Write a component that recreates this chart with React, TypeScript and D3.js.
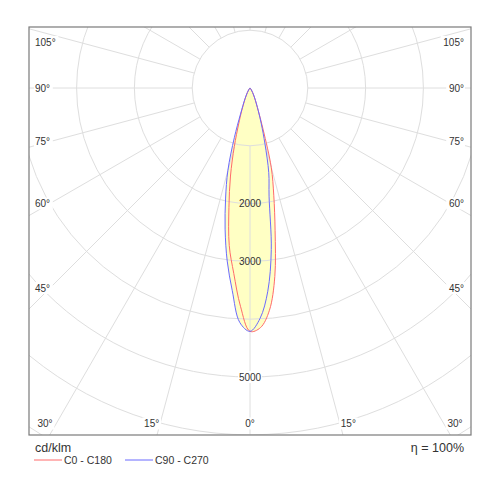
import React from "react";
import * as d3 from "d3";

// Gamma angles (deg from nadir) and intensities (cd/klm) per half-plane
const gammaAngles = [0, 2.5, 5, 7.5, 10, 12.5, 15, 17.5, 20, 25, 30, 35, 40, 50, 60, 70, 80, 90];
const c0Values = [4210, 4150, 3860, 3290, 2500, 1900, 1420, 760, 420, 190, 90, 40, 20, 8, 4, 2, 1, 0];
const c180Values = [4210, 3780, 3220, 2750, 2100, 1560, 1050, 650, 420, 190, 90, 40, 20, 8, 4, 2, 1, 0];
const c90Values = [4200, 3990, 3530, 2820, 1900, 1500, 1000, 650, 420, 190, 90, 40, 20, 8, 4, 2, 1, 0];
const c270Values = [4210, 4060, 3520, 3020, 2480, 1950, 1480, 900, 480, 200, 90, 40, 20, 8, 4, 2, 1, 0];

const ringValues = [1000, 2000, 3000, 4000, 5000, 6000, 7000, 8000];
const ringLabels = [2000, 3000, 5000];
const sideAngleLabels = [45, 60, 75, 90, 105];
const bottomAngleLabels = [0, 15, 30];
const series = [
  { name: "C0 - C180", right: c0Values, left: c180Values, color: "#ff6a6a" },
  { name: "C90 - C270", right: c90Values, left: c270Values, color: "#6a6aff" },
];
const unitLabel = "cd/klm";
const effLabel = "η = 100%";

const FONT = "'Liberation Sans', Arial, sans-serif";

export default function App() {
  const W = 500, H = 500;
  const cx = 250, cy = 88;
  const fx0 = 29, fy0 = 27, fx1 = 471, fy1 = 435;
  const r = d3.scaleLinear().domain([0, 5000]).range([0, 289]);
  const rad = (d: number) => (d * Math.PI) / 180;

  const makePoints = (left: number[], right: number[]) => {
    const pts: [number, number][] = [];
    for (let i = gammaAngles.length - 1; i >= 0; i--) pts.push([-gammaAngles[i], left[i]]);
    for (let i = 1; i < gammaAngles.length; i++) pts.push([gammaAngles[i], right[i]]);
    return pts;
  };
  const line = d3
    .lineRadial<[number, number]>()
    .angle((p) => Math.PI - rad(p[0]))
    .radius((p) => r(p[1]))
    .curve(d3.curveCatmullRom.alpha(0.5));

  const radials = d3.range(0, 360, 15);
  const r1 = r(1000);

  const labelBox = (x: number, y: number, text: string, anchor: "start" | "middle" | "end", key: string) => {
    const w = text.length * 5.6;
    const bx = anchor === "start" ? x : anchor === "end" ? x - w : x - w / 2;
    return (
      <g key={key}>
        <rect x={bx - 1} y={y - 6} width={w + 2} height={12} fill="#fff" />
        <text x={x} y={y + 3.5} textAnchor={anchor} fontSize={10} fill="#333" fontFamily={FONT}>
          {text}
        </text>
      </g>
    );
  };

  const sideLabels: React.ReactNode[] = [];
  sideAngleLabels.forEach((g) => {
    let y = cy + (200 * Math.cos(rad(g))) / Math.sin(rad(g));
    y = Math.max(y, fy0 + 15);
    sideLabels.push(labelBox(35, y, `${g}°`, "start", `l${g}`));
    sideLabels.push(labelBox(464, y, `${g}°`, "end", `r${g}`));
  });
  bottomAngleLabels.forEach((g) => {
    const off = (fy1 + 20 - cy) * Math.tan(rad(g));
    const yl = 423.5;
    if (g === 0) {
      sideLabels.push(labelBox(cx, yl, `${g}°`, "middle", `b0`));
    } else {
      sideLabels.push(labelBox(Math.max(cx - off, 45), yl, `${g}°`, "middle", `bl${g}`));
      sideLabels.push(labelBox(Math.min(cx + off, 455), yl, `${g}°`, "middle", `br${g}`));
    }
  });

  return (
    <svg width={W} height={H} style={{ position: "absolute", left: 0, top: 0, background: "#fff" }}>
      <defs>
        <clipPath id="frameClip">
          <rect x={fx0} y={fy0} width={fx1 - fx0} height={fy1 - fy0} />
        </clipPath>
      </defs>
      <g clipPath="url(#frameClip)">
        <g transform={`translate(${cx},${cy})`}>
          {series.map((s) => (
            <path key={"f" + s.name} d={line(makePoints(s.left, s.right)) || ""} fill="#ffffc4" stroke="none" />
          ))}
          {ringValues.map((v) => (
            <circle key={v} r={r(v)} fill="none" stroke="#dedede" strokeWidth={1} />
          ))}
          {radials.map((a) => {
            const t = rad(a);
            return (
              <line
                key={a}
                x1={r1 * Math.sin(t)}
                y1={r1 * Math.cos(t)}
                x2={700 * Math.sin(t)}
                y2={700 * Math.cos(t)}
                stroke="#dedede"
                strokeWidth={1}
              />
            );
          })}
          {series.map((s) => (
            <path key={"l" + s.name} d={line(makePoints(s.left, s.right)) || ""} fill="none" stroke={s.color} strokeWidth={1} />
          ))}
          {ringLabels.map((v) => (
            <g key={"rl" + v}>
              {v === 5000 && <rect x={-12} y={r(v) - 6} width={24} height={12} fill="#fff" />}
              <text x={0} y={r(v) + 3.5} textAnchor="middle" fontSize={10} fill="#333" fontFamily={FONT}>
                {v}
              </text>
            </g>
          ))}
        </g>
        {sideLabels}
      </g>
      <rect x={fx0} y={fy0} width={fx1 - fx0} height={fy1 - fy0} fill="none" stroke="#7a7a7a" strokeWidth={1.2} />
      <text x={35} y={452} fontSize={12.5} fill="#333" fontFamily={FONT}>
        {unitLabel}
      </text>
      <text x={464} y={452} fontSize={12.5} fill="#333" textAnchor="end" fontFamily={FONT}>
        {effLabel}
      </text>
      {series.map((s, i) => {
        const x0 = i === 0 ? 34 : 125;
        return (
          <g key={"lg" + s.name}>
            <line x1={x0} x2={x0 + 28} y1={460} y2={460} stroke={s.color} strokeWidth={1} />
            <text x={x0 + 30} y={464} fontSize={10.5} fill="#333" fontFamily={FONT}>
              {s.name}
            </text>
          </g>
        );
      })}
    </svg>
  );
}
